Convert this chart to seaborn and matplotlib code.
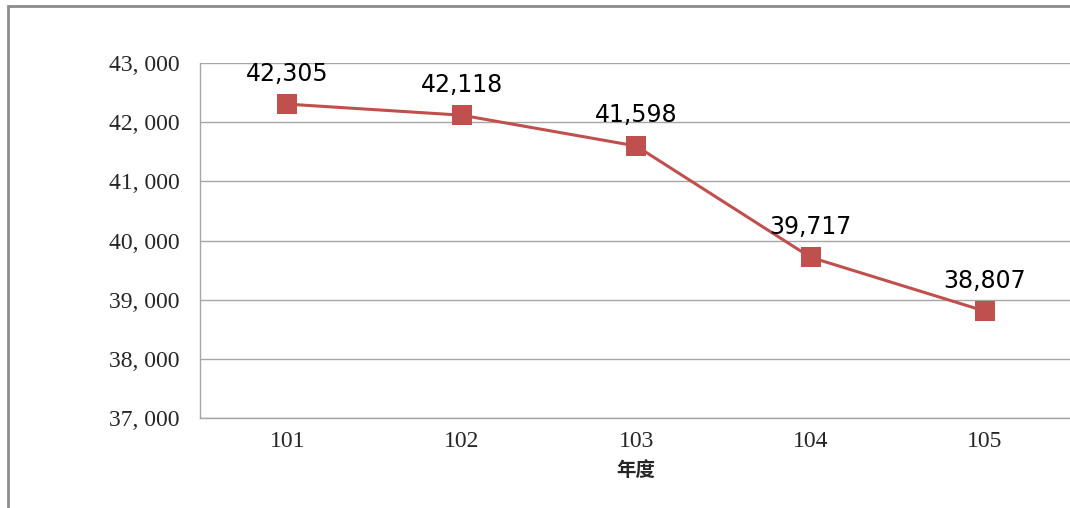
import matplotlib
matplotlib.use("Agg")
import matplotlib.pyplot as plt
import seaborn as sns
import pandas as pd
from matplotlib.patches import Rectangle
from matplotlib.ticker import FuncFormatter, FixedLocator

years = ["101", "102", "103", "104", "105"]
counts = [42305, 42118, 41598, 39717, 38807]

df = pd.DataFrame({"year": years, "count": counts})
df["pos"] = range(len(df))

sns.set_style("white")

fig = plt.figure(figsize=(10.7, 5.08), dpi=100)
ax = fig.add_axes([0.187, 0.177, 0.815, 0.699])

sns.lineplot(data=df, x="pos", y="count", ax=ax, color="#C0504D",
             linewidth=2.2, marker="s", markersize=14, markeredgewidth=0)

for _, r in df.iterrows():
    ax.annotate(f"{r['count']:,}", (r["pos"], r["count"]), xytext=(0, 22),
                textcoords="offset points", ha="center", va="center",
                fontsize=17, family="DejaVu Sans", color="black")

ax.set_xlim(-0.5, len(df) - 0.5)
ax.set_ylim(37000, 43000)
ax.yaxis.set_major_locator(FixedLocator(range(37000, 43001, 1000)))
ax.yaxis.set_major_formatter(FuncFormatter(lambda v, p: f"{int(v):,}".replace(",", ", ")))
ax.set_xticks(df["pos"])
ax.set_xticklabels(years)
ax.xaxis.set_minor_locator(FixedLocator([i + 0.5 for i in range(-1, len(df))]))

ax.grid(axis="y", color="#A6A6A6", linewidth=1)
ax.set_axisbelow(True)
for s in ["top", "right"]:
    ax.spines[s].set_visible(False)
for s in ["left", "bottom"]:
    ax.spines[s].set_color("#A6A6A6")
    ax.spines[s].set_linewidth(1)

ax.tick_params(axis="y", which="major", direction="out", length=6, width=1,
               color="#A6A6A6", labelsize=17, pad=9)
ax.tick_params(axis="x", which="major", length=0, labelsize=17, pad=9)
ax.tick_params(axis="x", which="minor", direction="out", length=5, width=1,
               color="#A6A6A6")
for lab in ax.get_yticklabels() + ax.get_xticklabels():
    lab.set_family("Liberation Serif")

ax.set_ylabel("")
ax.set_xlabel("年度", family=["Noto Sans CJK TC", "DejaVu Sans"], fontsize=14,
              fontweight="bold", labelpad=7)

# outer chart frame
fig.patches.append(Rectangle((8 / 1070, -0.1), 1.2, 0.1 + 1 - 6 / 508,
                             transform=fig.transFigure, fill=False,
                             edgecolor="#8C8C8C", linewidth=2))

fig.savefig("out.png", dpi=100)
